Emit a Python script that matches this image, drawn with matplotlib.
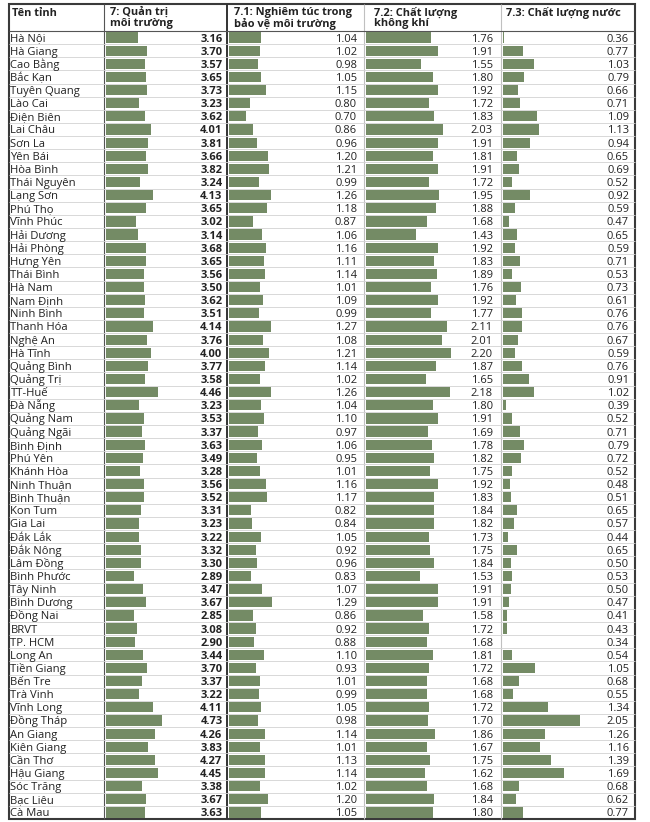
import numpy as np
import matplotlib
matplotlib.use("Agg")
import matplotlib.pyplot as plt
from matplotlib.patches import Rectangle

provinces = ["Hà Nội", "Hà Giang", "Cao Bằng", "Bắc Kạn", "Tuyên Quang", "Lào Cai",
             "Điện Biên", "Lai Châu", "Sơn La", "Yên Bái", "Hòa Bình", "Thái Nguyên",
             "Lạng Sơn", "Phú Thọ", "Vĩnh Phúc", "Hải Dương", "Hải Phòng", "Hưng Yên",
             "Thái Bình", "Hà Nam", "Nam Định", "Ninh Bình", "Thanh Hóa", "Nghệ An",
             "Hà Tĩnh", "Quảng Bình", "Quảng Trị", "TT-Huế", "Đà Nẵng", "Quảng Nam",
             "Quảng Ngãi", "Bình Định", "Phú Yên", "Khánh Hòa", "Ninh Thuận", "Bình Thuận",
             "Kon Tum", "Gia Lai", "Đắk Lắk", "Đắk Nông", "Lâm Đồng", "Bình Phước",
             "Tây Ninh", "Bình Dương", "Đồng Nai", "BRVT", "TP. HCM", "Long An",
             "Tiền Giang", "Bến Tre", "Trà Vinh", "Vĩnh Long", "Đồng Tháp", "An Giang",
             "Kiên Giang", "Cần Thơ", "Hậu Giang", "Sóc Trăng", "Bạc Liêu", "Cà Mau"]

quan_tri = [3.16, 3.70, 3.57, 3.65, 3.73, 3.23, 3.62, 4.01, 3.81, 3.66,
            3.82, 3.24, 4.13, 3.65, 3.02, 3.14, 3.68, 3.65, 3.56, 3.50,
            3.62, 3.51, 4.14, 3.76, 4.00, 3.77, 3.58, 4.46, 3.23, 3.53,
            3.37, 3.63, 3.49, 3.28, 3.56, 3.52, 3.31, 3.23, 3.22, 3.32,
            3.30, 2.89, 3.47, 3.67, 2.85, 3.08, 2.90, 3.44, 3.70, 3.37,
            3.22, 4.11, 4.73, 4.26, 3.83, 4.27, 4.45, 3.38, 3.67, 3.63]

nghiem_tuc = [1.04, 1.02, 0.98, 1.05, 1.15, 0.80, 0.70, 0.86, 0.96, 1.20,
              1.21, 0.99, 1.26, 1.18, 0.87, 1.06, 1.16, 1.11, 1.14, 1.01,
              1.09, 0.99, 1.27, 1.08, 1.21, 1.14, 1.02, 1.26, 1.04, 1.10,
              0.97, 1.06, 0.95, 1.01, 1.16, 1.17, 0.82, 0.84, 1.05, 0.92,
              0.96, 0.83, 1.07, 1.29, 0.86, 0.92, 0.88, 1.10, 0.93, 1.01,
              0.99, 1.05, 0.98, 1.14, 1.01, 1.13, 1.14, 1.02, 1.20, 1.05]

khong_khi = [1.76, 1.91, 1.55, 1.80, 1.92, 1.72, 1.83, 2.03, 1.91, 1.81,
             1.91, 1.72, 1.95, 1.88, 1.68, 1.43, 1.92, 1.83, 1.89, 1.76,
             1.92, 1.77, 2.11, 2.01, 2.20, 1.87, 1.65, 2.18, 1.80, 1.91,
             1.69, 1.78, 1.82, 1.75, 1.92, 1.83, 1.84, 1.82, 1.73, 1.75,
             1.84, 1.53, 1.91, 1.91, 1.58, 1.72, 1.68, 1.81, 1.72, 1.68,
             1.68, 1.72, 1.70, 1.86, 1.67, 1.75, 1.62, 1.68, 1.84, 1.80]

nuoc = [0.36, 0.77, 1.03, 0.79, 0.66, 0.71, 1.09, 1.13, 0.94, 0.65,
        0.69, 0.52, 0.92, 0.59, 0.47, 0.65, 0.59, 0.71, 0.53, 0.73,
        0.61, 0.76, 0.76, 0.67, 0.59, 0.76, 0.91, 1.02, 0.39, 0.52,
        0.71, 0.79, 0.72, 0.52, 0.48, 0.51, 0.65, 0.57, 0.44, 0.65,
        0.50, 0.53, 0.50, 0.47, 0.41, 0.43, 0.34, 0.54, 1.05, 0.68,
        0.55, 1.34, 2.05, 1.26, 1.16, 1.39, 1.69, 0.68, 0.62, 0.77]

name_header = "Tên tỉnh"
col_headers = [["7: Quản trị", "môi trường"],
               ["7.1: Nghiêm túc trong", "bảo vệ môi trường"],
               ["7.2: Chất lượng", "không khí"],
               ["7.3: Chất lượng nước"]]

W, H = 650, 822
FONT = ['Open Sans', 'DejaVu Sans']
BAR = '#748b65'
TXT = '#222222'

fig = plt.figure(figsize=(W / 100, H / 100), dpi=100)
fig.patch.set_facecolor('white')


def frac(x0, y0, x1, y1):
    return [x0 / W, 1 - y1 / H, (x1 - x0) / W, (y1 - y0) / H]


TOP, HDR, BOT, LEFT, RIGHT = 4, 31, 819, 9, 635
n = len(provinces)
rows_idx = np.arange(n)

base = fig.add_axes([0, 0, 1, 1])
base.set_xlim(0, W)
base.set_ylim(H, 0)
base.axis('off')

# row area: grid lines and province names
rows = fig.add_axes(frac(0, HDR, W, BOT))
rows.set_xlim(0, W)
rows.set_ylim(n - 0.5, -0.5)
rows.axis('off')
rows.hlines(rows_idx[:-1] + 0.5, LEFT, RIGHT, color='#d2d2d2', lw=0.6)
for i, p in enumerate(provinces):
    rows.text(10.5, i + 0.3, p, va='baseline', ha='left', fontsize=8.1,
              family=FONT, color=TXT)

# vertical separators and border
base.vlines([364, 501], TOP, BOT, color='#c0c0c0', lw=0.8)
base.vlines(104, TOP, BOT, color='#555555', lw=0.8)
base.vlines(227, TOP, BOT, color='#333333', lw=1.4)
base.hlines(HDR, LEFT, RIGHT, color='#555555', lw=0.8)
base.add_patch(Rectangle((LEFT, TOP), RIGHT - LEFT, BOT - TOP, fill=False,
                         ec='#3a3a3a', lw=1.5))

# headers
base.text(11.5, 14, name_header, ha='left', va='center', fontsize=7.9,
          fontweight='bold', family=FONT, color=TXT)
hx = [110, 234, 374, 506]
for x, lines in zip(hx, col_headers):
    for j, line in enumerate(lines):
        base.text(x, 12.5 + 11 * j, line, ha='left', va='center', fontsize=7.9,
                  fontweight='bold', family=FONT, color=TXT)

# bar columns: (values, left px, right px, axis start value, px per unit, bold)
columns = [(quan_tri, 106, 222.5, 1.0, 15.0, True),
           (nghiem_tuc, 228.5, 357, 0.32, 45.0, False),
           (khong_khi, 366, 493, 0.32, 45.0, False),
           (nuoc, 502.5, 629, 0.32, 45.0, False)]

for vals, x0, x1, v0, sc, bold in columns:
    ax = fig.add_axes(frac(x0, HDR, x1, BOT))
    ax.set_xlim(v0, v0 + (x1 - x0) / sc)
    ax.set_ylim(n - 0.5, -0.5)
    ax.axis('off')
    ax.barh(rows_idx, vals, height=0.78, color=BAR)
    for i, v in enumerate(vals):
        ax.text(1.0, i + 0.3, f"{v:.2f}", transform=ax.get_yaxis_transform(),
                ha='right', va='baseline', fontsize=8.0, family=FONT, color=TXT,
                fontweight='bold' if bold else 'normal')

fig.savefig('out.png', dpi=100, facecolor='white')
